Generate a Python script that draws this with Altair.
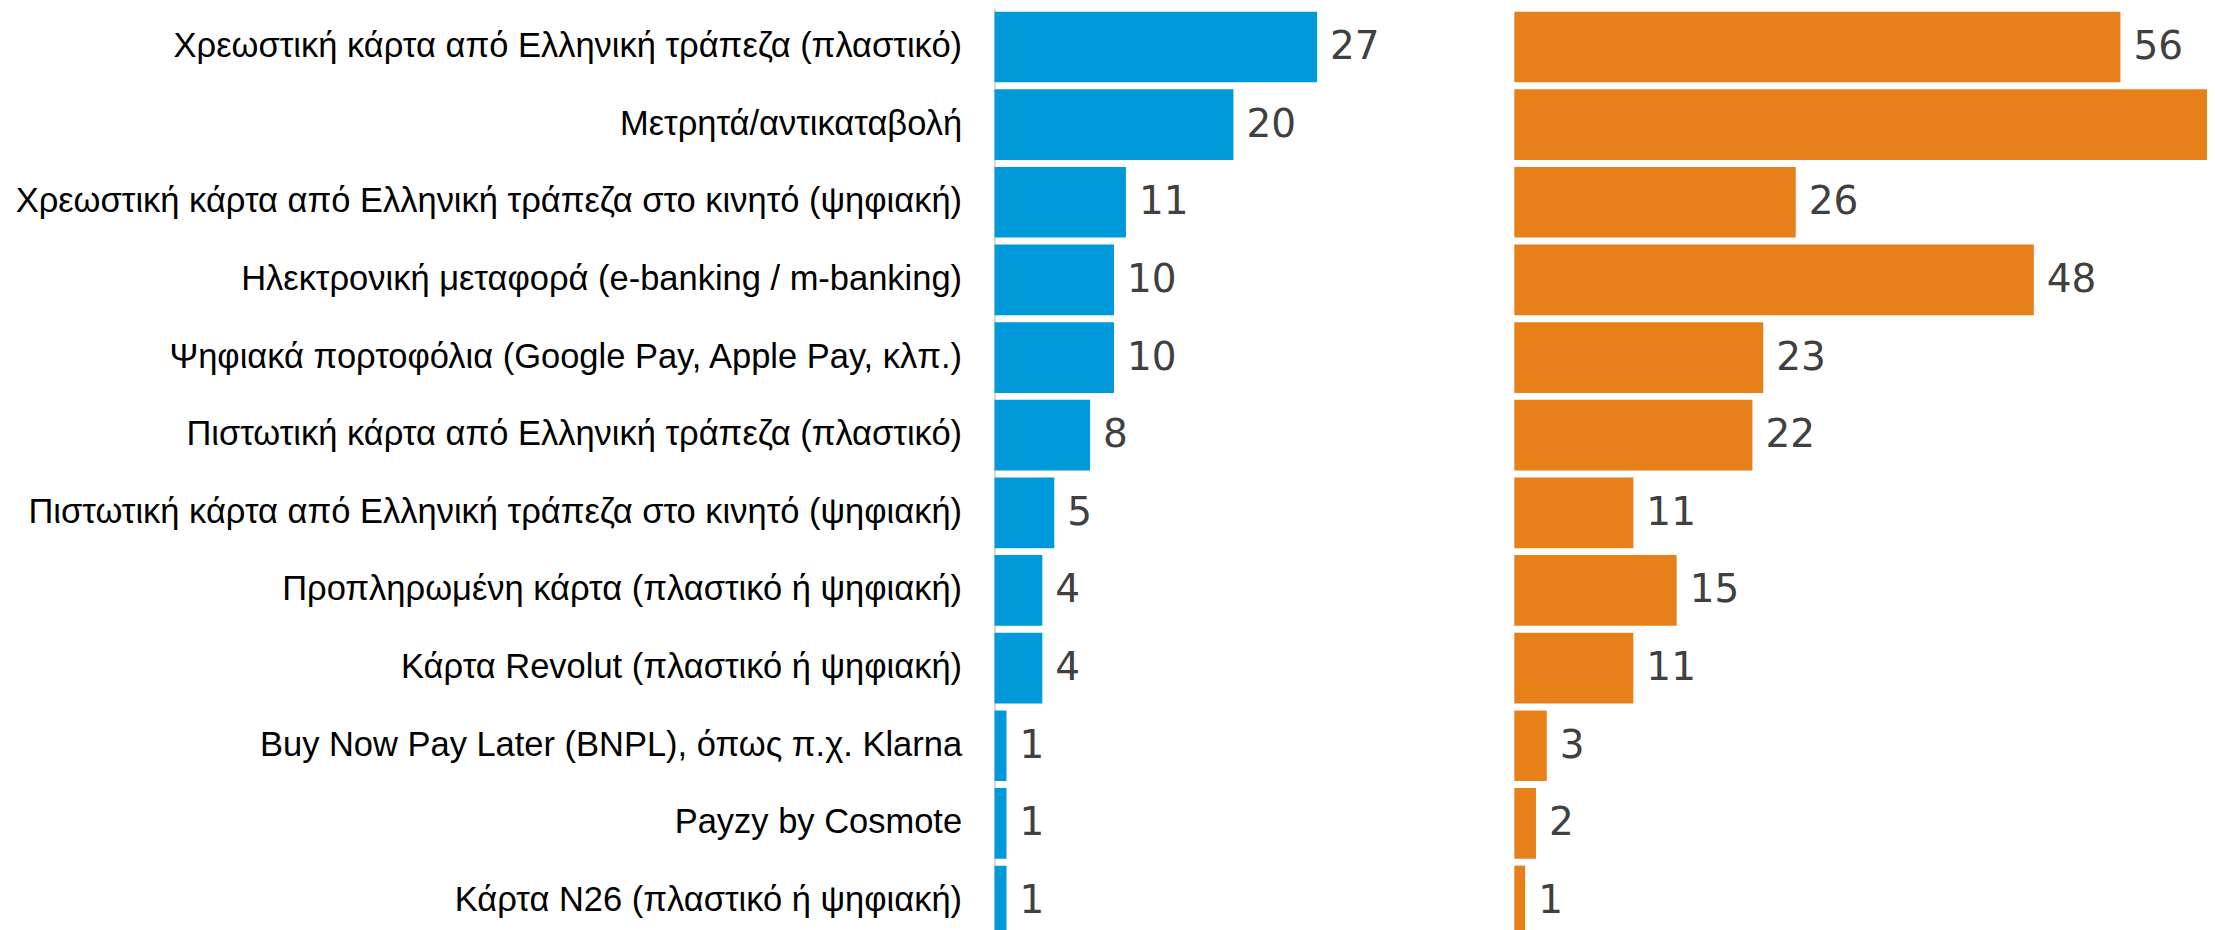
import altair as alt
import pandas as pd

categories = [
    "Χρεωστική κάρτα από Ελληνική τράπεζα (πλαστικό)",
    "Μετρητά/αντικαταβολή",
    "Χρεωστική κάρτα από Ελληνική τράπεζα στο κινητό (ψηφιακή)",
    "Ηλεκτρονική μεταφορά (e-banking / m-banking)",
    "Ψηφιακά πορτοφόλια (Google Pay, Apple Pay, κλπ.)",
    "Πιστωτική κάρτα από Ελληνική τράπεζα (πλαστικό)",
    "Πιστωτική κάρτα από Ελληνική τράπεζα στο κινητό (ψηφιακή)",
    "Προπληρωμένη κάρτα (πλαστικό ή ψηφιακή)",
    "Κάρτα Revolut (πλαστικό ή ψηφιακή)",
    "Buy Now Pay Later (BNPL), όπως π.χ. Klarna",
    "Payzy by Cosmote",
    "Κάρτα N26 (πλαστικό ή ψηφιακή)",
]
blue_values = [27, 20, 11, 10, 10, 8, 5, 4, 4, 1, 1, 1]
orange_values = [56, 64, 26, 48, 23, 22, 11, 15, 11, 3, 2, 1]

BLUE = "#0099DA"
ORANGE = "#E8801A"
NUM_FONT = "DejaVu Sans"
LBL_FONT = "Liberation Sans"
ORANGE_MAX = 64  # the orange axis ends at the chart edge; labels past it are not shown

df = pd.DataFrame({"category": categories, "blue": blue_values, "orange": orange_values})

yscale = alt.Scale(paddingInner=0.09, paddingOuter=0.045)

y_left = alt.Y(
    "category:N",
    sort=categories,
    scale=yscale,
    axis=alt.Axis(
        title=None, ticks=False, domain=True, domainColor="#d9d9d9", domainWidth=2,
        labelFont=LBL_FONT, labelFontSize=34.5, labelColor="#000000",
        labelPadding=33, labelLimit=2000, grid=False,
    ),
)
y_right = alt.Y("category:N", sort=categories, scale=yscale, axis=None)

base_l = alt.Chart(df).encode(
    y=y_left,
    x=alt.X("blue:Q", scale=alt.Scale(domain=[0, 40], nice=False), axis=None),
)
left = (
    base_l.mark_bar(color=BLUE)
    + base_l.mark_text(align="left", baseline="middle", dx=13, font=NUM_FONT,
                       fontSize=39, color="#404040", clip=True).encode(text="blue:Q")
).properties(width=478, height=932)

base_r = alt.Chart(df).encode(
    y=y_right,
    x=alt.X("orange:Q", scale=alt.Scale(domain=[0, ORANGE_MAX], nice=False), axis=None),
)
right = (
    base_r.mark_bar(color=ORANGE)
    + base_r.transform_filter(alt.datum.orange < ORANGE_MAX - 4)
    .mark_text(align="left", baseline="middle", dx=13, font=NUM_FONT,
               fontSize=39, color="#404040", clip=True).encode(text="orange:Q")
).properties(width=693, height=932)

chart = (
    alt.hconcat(left, right, spacing=42)
    .properties(padding={"left": 6, "top": 0, "right": 0, "bottom": 0})
    .configure_view(stroke=None)
)

chart.save("out.html", embed_options={"renderer": "svg", "actions": False})
